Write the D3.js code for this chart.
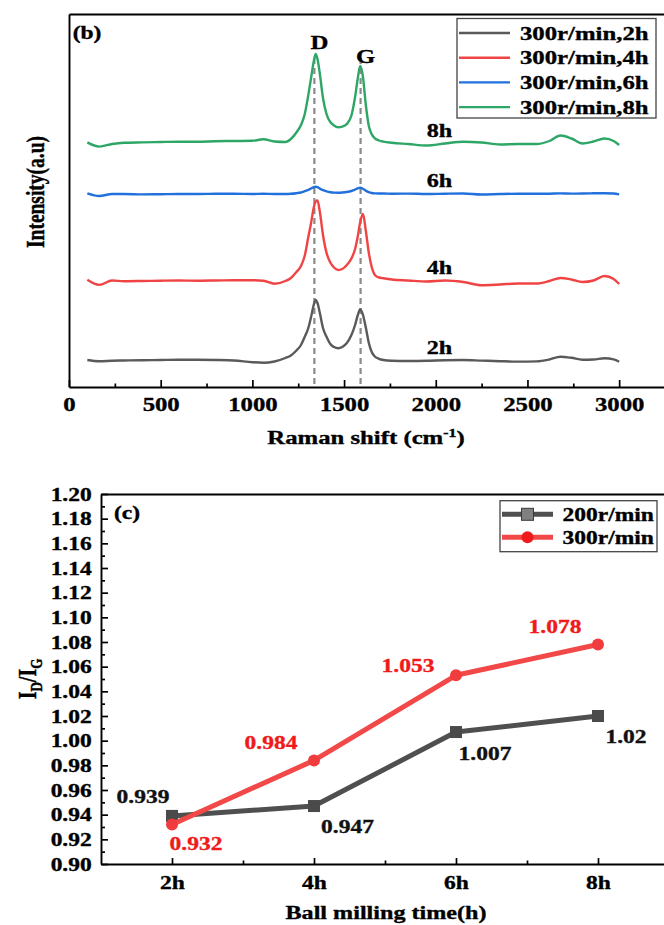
<!DOCTYPE html>
<html>
<head>
<meta charset="utf-8">
<script src="https://cdn.jsdelivr.net/npm/d3@7"></script>
<style>
  html, body { margin: 0; padding: 0; background: #fff; }
  svg { display: block; }
</style>
</head>
<body>
<svg id="fig" width="664" height="925"></svg>
<script>
// ---------- Raman spectra (panel b) ----------
const shifts = [100,165,235,300,400,500,600,700,800,900,1000,1060,1120,1180,1210,1240,1265,1285,1305,1320,
  1333,1345,1355,1368,1385,1405,1425,1445,1468,1490,1515,1540,1560,1575,1588,1603,1618,1635,1650,1668,
  1690,1715,1760,1850,1950,2050,2150,2250,2350,2450,2550,2620,2680,2740,2800,2860,2920,2970,3000];

const intensity2h = [27,25.8,26.3,26.5,26.8,27,27.2,27.2,27,26.5,24.8,24.3,25.5,29,31.5,36.5,42,50,59,70,
  81,87,84,74,59,50,43,40,38.7,40,44,52,62,72,77.7,72,60,44,35.3,30.5,
  28.2,27,26.3,26,26.2,26.8,27,26.4,25.8,25.4,25.6,27.5,30.3,29.2,27.3,27.5,28.7,27.6,25.2];
const intensity4h = [107.2,102.1,106.5,105.8,106,106.3,106.5,106.3,106.5,106.8,106.8,106.3,103.2,106,109,115,121,131,150,164,
  178,185.5,186.5,175,152,133.7,124.5,119.5,117,118,122,128.5,138,151,165,173,157,134,120.5,112,
  109.5,108.7,107.5,106.5,105.5,106.5,105,101.8,102.5,103.5,103.5,106,109,107.5,105,106.5,111,108,103];
const intensity6h = [193.6,191,193,193,192.6,192.8,193,193,193.2,193.3,193,193.2,193,193,193.2,193.8,194.5,195.8,197.2,198.5,
  199.7,200.3,199.8,198.4,196.8,195.6,194.8,194.4,194.3,194.5,195,196,197.4,198.7,199.3,198.2,196.4,194.8,194,193.6,
  193.5,193.5,193.3,193.4,193,193.3,193.5,192.5,193,193.3,193.2,193.3,193.6,193.4,193.5,193.7,193.8,193.5,192.6];
const intensity8h = [244.6,240.4,243,244.2,244.6,245,245.3,245.3,245.8,246,246.2,247.8,245.5,245,248,254.5,262,272.5,292,309,
  324,333,328,313,289,272.5,265,261.5,259.7,260.3,263,271.5,290,309,321,310,283,261,253,248.7,
  246.5,245.3,244.3,243,241.5,243.5,245.3,244.5,242.5,243,243,246,251.5,248.5,243.5,245.5,248.5,246,242];

const spectraNames = ["300r/min,2h","300r/min,4h","300r/min,6h","300r/min,8h"];
const spectraTags = ["2h","4h","6h","8h"];
const spectraColors = ["#5a5a5a","#f04444","#2170dc","#2da666"];
const spectraValues = [intensity2h, intensity4h, intensity6h, intensity8h];
const shiftTicks = [0,500,1000,1500,2000,2500,3000];
const shiftMinorTicks = [250,750,1250,1750,2250,2750];
const bandNames = ["D","G"];
const bandShifts = [1338,1590];

// ---------- I_D/I_G ratio (panel c) ----------
const millingHours = [2,4,6,8];
const hourLabels = ["2h","4h","6h","8h"];
const hourMinorTicks = [3,5,7];
const ratio200 = [0.939,0.947,1.007,1.02];
const ratio300 = [0.932,0.984,1.053,1.078];
const ratioTicks = [0.90,0.92,0.94,0.96,0.98,1.00,1.02,1.04,1.06,1.08,1.10,1.12,1.14,1.16,1.18,1.20];
const ratioMinorTicks = [0.91,0.93,0.95,0.97,0.99,1.01,1.03,1.05,1.07,1.09,1.11,1.13,1.15,1.17,1.19];
const speedNames = ["200r/min","300r/min"];

// ---------- drawing ----------
const FONT = "'Liberation Serif','Times New Roman',serif";
const SX = 1.27;           // lettering is set slightly wide
const svg = d3.select("#fig");

function txt(parent, s, x, y, size, opts = {}) {
  const fill = opts.fill || "#000";
  const t = parent.append("text")
    .attr("transform", opts.rotate
      ? `translate(${x},${y}) rotate(-90) scale(1,${SX})`
      : `translate(${x},${y}) scale(${SX},1)`)
    .attr("dy", "0.34em")
    .attr("font-family", FONT)
    .attr("font-weight", "bold")
    .attr("font-size", size)
    .attr("fill", fill)
    .attr("stroke", fill)
    .attr("stroke-width", 0.35)
    .attr("text-anchor", opts.anchor || "middle");
  if (s !== null) t.text(s);
  return t;
}

function styleAxis(g) {
  g.attr("font-family", FONT).attr("font-weight", "bold");
  g.selectAll("path.domain").attr("stroke", "#000").attr("stroke-width", 1.9);
  g.selectAll(".tick line").attr("stroke", "#000").attr("stroke-width", 1.7);
}

function styleTickText(g, size) {
  g.selectAll(".tick text")
    .attr("font-size", size).attr("fill", "#000")
    .attr("stroke", "#000").attr("stroke-width", 0.35)
    .attr("dy", "0.34em").attr("transform", `scale(${SX},1)`);
}

// ===== panel (b) =====
const xR = d3.scaleLinear().domain([0, 3250]).range([69, 665]);
const yR = d3.scaleLinear().domain([0, 373]).range([387, 14]);

// band guide lines
svg.append("g").selectAll("line").data(bandShifts).join("line")
  .attr("x1", d => xR(d)).attr("x2", d => xR(d))
  .attr("y1", yR(329)).attr("y2", yR(0))
  .attr("stroke", "#8a8a8a").attr("stroke-width", 2.2)
  .attr("stroke-dasharray", "6,4");

const specLine = d3.line()
  .x(d => xR(d[0])).y(d => yR(d[1]))
  .curve(d3.curveMonotoneX);

spectraValues.forEach((vals, i) => {
  svg.append("path")
    .datum(shifts.map((s, k) => [s, vals[k]]))
    .attr("d", specLine)
    .attr("fill", "none")
    .attr("stroke", spectraColors[i])
    .attr("stroke-width", 2.4)
    .attr("stroke-linejoin", "round");
});

// axes
const gxR = svg.append("g").attr("transform", `translate(0,${yR(0)})`)
  .call(d3.axisBottom(xR).tickValues(shiftTicks).tickSize(-7).tickSizeOuter(0).tickFormat(d3.format("d")));
styleAxis(gxR);
gxR.selectAll(".tick text").attr("y", 17.5);
styleTickText(gxR, 19.5);

const gxRm = svg.append("g").attr("transform", `translate(0,${yR(0)})`)
  .call(d3.axisBottom(xR).tickValues(shiftMinorTicks).tickSize(-3.5).tickFormat(""));
styleAxis(gxRm); gxRm.select(".domain").remove();

const gtR = svg.append("g").attr("transform", `translate(0,${yR(373)})`)
  .call(d3.axisTop(xR).tickValues([]).tickSizeOuter(0));
styleAxis(gtR);
const gyR = svg.append("g").attr("transform", `translate(${xR(0)},0)`)
  .call(d3.axisLeft(yR).tickValues([]).tickSizeOuter(0));
styleAxis(gyR);

// band letters
txt(svg, bandNames[0], xR(bandShifts[0]) + 5, 42.5, 19.5);
txt(svg, bandNames[1], xR(bandShifts[1]) + 5, 56, 19.5);

// series tags next to each spectrum
const tagIdx = shifts.indexOf(2050);
spectraValues.forEach((vals, i) => {
  txt(svg, spectraTags[i], xR(2020), yR(vals[tagIdx] + 13), 19);
});

txt(svg, "(b)", 87, 33, 18.5);

// axis titles
const rt = txt(svg, null, 366, 437, 19.5);
rt.append("tspan").text("Raman shift (cm");
rt.append("tspan").attr("font-size", 12.5).attr("dy", -7).text("-1");
rt.append("tspan").attr("dy", 7).text(")");
txt(svg, "Intensity(a.u)", 36, 192, 19.5, { rotate: true });

// legend (b)
const lgB = svg.append("g");
lgB.append("rect").attr("x", 457).attr("y", 18.5).attr("width", 199).attr("height", 99.5)
  .attr("fill", "#fff").attr("stroke", "#444").attr("stroke-width", 1.3);
spectraNames.forEach((name, i) => {
  const y = 33 + i * 24.7;
  lgB.append("line").attr("x1", 459).attr("x2", 510).attr("y1", y).attr("y2", y)
    .attr("stroke", spectraColors[i]).attr("stroke-width", 2.4);
  txt(lgB, name, 520, y, 19.5, { anchor: "start" });
});

// ===== panel (c) =====
const xB = d3.scaleLinear().domain([1, 9]).range([101, 669]);
const yB = d3.scaleLinear().domain([0.90, 1.20]).range([864, 494]);

const gxB = svg.append("g").attr("transform", `translate(0,${yB(0.90)})`)
  .call(d3.axisBottom(xB).tickValues(millingHours).tickSize(-6).tickSizeOuter(0)
    .tickFormat((d, i) => hourLabels[i]));
styleAxis(gxB);
gxB.selectAll(".tick text").attr("y", 19);
styleTickText(gxB, 18.5);
const gxBm = svg.append("g").attr("transform", `translate(0,${yB(0.90)})`)
  .call(d3.axisBottom(xB).tickValues(hourMinorTicks).tickSize(-3.5).tickFormat(""));
styleAxis(gxBm); gxBm.select(".domain").remove();

const gyB = svg.append("g").attr("transform", `translate(${xB(1)},0)`)
  .call(d3.axisLeft(yB).tickValues(ratioTicks).tickSize(-7).tickSizeOuter(0).tickFormat(d3.format(".2f")));
styleAxis(gyB);
gyB.selectAll(".tick text").attr("x", -9.3 / SX);
styleTickText(gyB, 18.5);
const gyBm = svg.append("g").attr("transform", `translate(${xB(1)},0)`)
  .call(d3.axisLeft(yB).tickValues(ratioMinorTicks).tickSize(-4).tickFormat(""));
styleAxis(gyBm); gyBm.select(".domain").remove();

const gtB = svg.append("g").attr("transform", `translate(0,${yB(1.20)})`)
  .call(d3.axisTop(xB).tickValues([]).tickSizeOuter(0));
styleAxis(gtB);

const ratioLine = d3.line().x((d, i) => xB(millingHours[i])).y(d => yB(d));

// 200 r/min series
svg.append("path").datum(ratio200).attr("d", ratioLine)
  .attr("fill", "none").attr("stroke", "#4f4f4f").attr("stroke-width", 5).attr("stroke-linejoin", "round");
svg.append("g").selectAll("rect").data(ratio200).join("rect")
  .attr("x", (d, i) => xB(millingHours[i]) - 6).attr("y", d => yB(d) - 6)
  .attr("width", 12).attr("height", 12).attr("fill", "#4a4a4a");

// 300 r/min series
svg.append("path").datum(ratio300).attr("d", ratioLine)
  .attr("fill", "none").attr("stroke", "#f24848").attr("stroke-width", 5).attr("stroke-linejoin", "round");
svg.append("g").selectAll("circle").data(ratio300).join("circle")
  .attr("cx", (d, i) => xB(millingHours[i])).attr("cy", d => yB(d))
  .attr("r", 6).attr("fill", "#f03c3c");

// value labels
const offset200 = [[-29, -19], [33.5, 21], [29, 21.5], [28, 21]];
const offset300 = [[24, 19], [-43, -18], [-48, -9.5], [-43, -18]];
ratio200.forEach((v, i) => {
  txt(svg, String(v), xB(millingHours[i]) + offset200[i][0], yB(v) + offset200[i][1], 18.5, { fill: "#111" });
});
ratio300.forEach((v, i) => {
  txt(svg, String(v), xB(millingHours[i]) + offset300[i][0], yB(v) + offset300[i][1], 18.5, { fill: "#f01a1a" });
});

txt(svg, "(c)", 127, 513, 18.5);

// axis titles
txt(svg, "Ball milling time(h)", 386, 913, 19);
const yt = txt(svg, null, 27, 679, 20, { rotate: true });
yt.append("tspan").text("I");
yt.append("tspan").attr("font-size", 13).attr("dy", 5).text("D");
yt.append("tspan").attr("dy", -5).text("/I");
yt.append("tspan").attr("font-size", 13).attr("dy", 5).text("G");

// legend (c)
const lgC = svg.append("g");
lgC.append("rect").attr("x", 500).attr("y", 500.7).attr("width", 157).attr("height", 51)
  .attr("fill", "#fff").attr("stroke", "#444").attr("stroke-width", 1.3);
[0, 1].forEach(i => {
  const y = 514.3 + i * 23;
  lgC.append("line").attr("x1", 502).attr("x2", 553).attr("y1", y).attr("y2", y)
    .attr("stroke", i === 0 ? "#4f4f4f" : "#f24848").attr("stroke-width", 5);
  if (i === 0) {
    lgC.append("rect").attr("x", 521.5).attr("y", y - 6).attr("width", 12).attr("height", 12)
      .attr("fill", "#808080").attr("stroke", "#3a3a3a").attr("stroke-width", 1);
  } else {
    lgC.append("circle").attr("cx", 527.5).attr("cy", y).attr("r", 6).attr("fill", "#f01c1c");
  }
  txt(lgC, speedNames[i], 562.5, y, 18.5, { anchor: "start" });
});
</script>
</body>
</html>
